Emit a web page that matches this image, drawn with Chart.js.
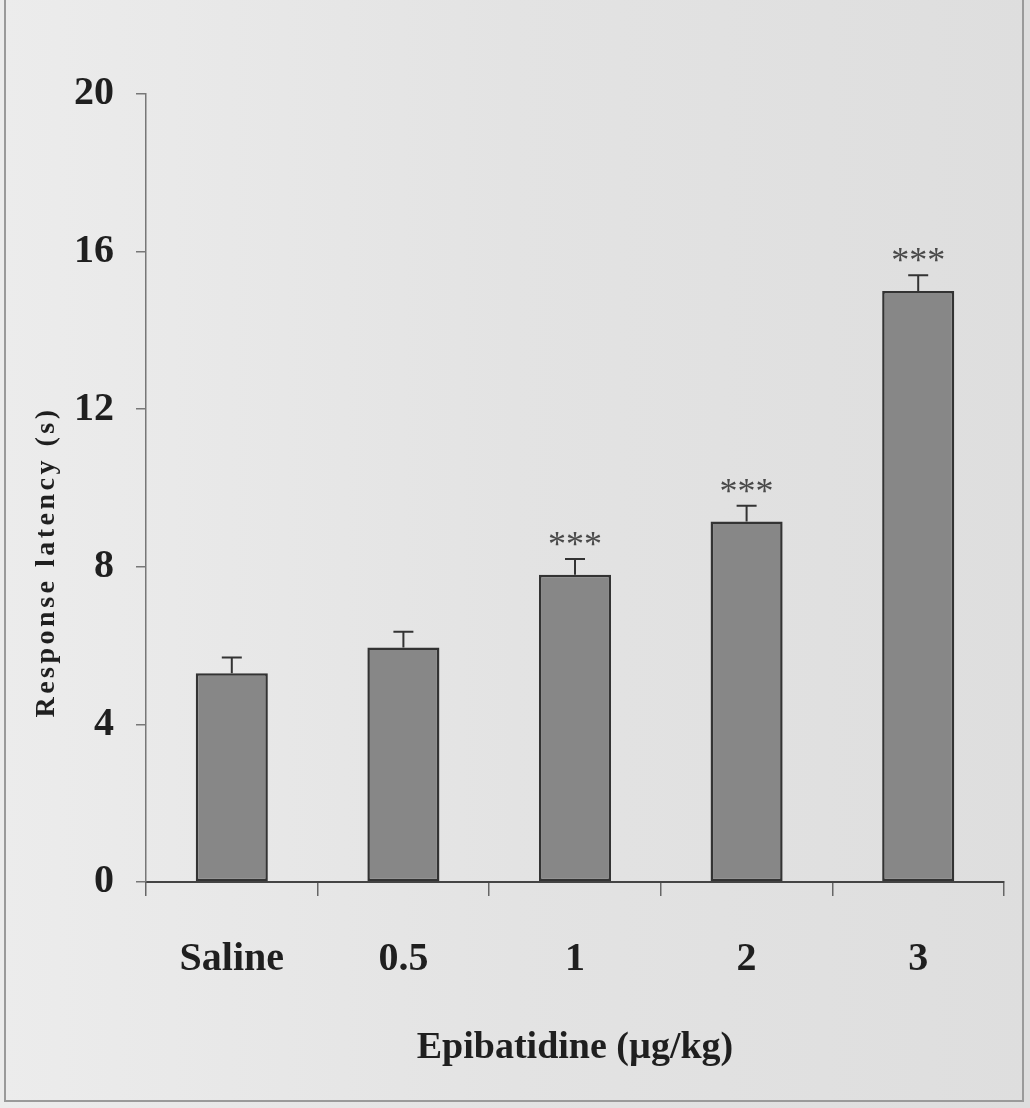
<!DOCTYPE html>
<html><head><meta charset="utf-8">
<script src="https://cdn.jsdelivr.net/npm/chart.js@4.4.1/dist/chart.umd.min.js"></script>
<style>html,body{margin:0;padding:0;background:#e4e4e4;}canvas{display:block;}</style>
</head><body>
<canvas id="c" width="1030" height="1108"></canvas>
<script>
// ---- data ----
const categories = ['Saline', '0.5', '1', '2', '3'];
const latency = [5.3, 5.95, 7.8, 9.15, 15.0];
const sem = [0.4, 0.4, 0.4, 0.4, 0.4];
const significance = ['', '', '***', '***', '***'];
const yTicks = [0, 4, 8, 12, 16, 20];
const xTitle = 'Epibatidine (µg/kg)';
const yTitle = 'Response latency (s)';

const SERIF = "'Liberation Serif', 'Times New Roman', serif";
const TEXT = '#1f1f1f';

const bgPlugin = {
  id: 'bg',
  beforeDraw(chart) {
    const {ctx, width, height} = chart;
    ctx.save();
    const g = ctx.createLinearGradient(0, 0, width, 0);
    g.addColorStop(0, '#ececec');
    g.addColorStop(0.5, '#e3e3e3');
    g.addColorStop(1, '#dedede');
    ctx.fillStyle = g;
    ctx.fillRect(0, 0, width, height);
    ctx.strokeStyle = '#9a9a9a';
    ctx.lineWidth = 2;
    ctx.beginPath();
    ctx.moveTo(5, 0); ctx.lineTo(5, height - 7);
    ctx.lineTo(width - 7, height - 7);
    ctx.lineTo(width - 7, 0);
    ctx.stroke();
    ctx.restore();
  }
};

const errPlugin = {
  id: 'err',
  afterDatasetsDraw(chart) {
    const {ctx} = chart;
    const meta = chart.getDatasetMeta(0);
    const y = chart.scales.y;
    ctx.save();
    meta.data.forEach((bar, i) => {
      const top = y.getPixelForValue(latency[i]);
      const cap = y.getPixelForValue(latency[i] + sem[i]);
      ctx.strokeStyle = '#333';
      ctx.lineWidth = 2;
      ctx.beginPath();
      ctx.moveTo(bar.x, top); ctx.lineTo(bar.x, cap);
      ctx.moveTo(bar.x - 10, cap); ctx.lineTo(bar.x + 10, cap);
      ctx.stroke();
      if (significance[i]) {
        ctx.fillStyle = '#4a4a4a';
        ctx.font = "36px " + SERIF;
        ctx.textAlign = 'center';
        ctx.textBaseline = 'alphabetic';
        ctx.fillText(significance[i], bar.x, cap - 3);
      }
    });
    ctx.restore();
  }
};

const yTitlePlugin = {
  id: 'ytitle',
  afterDraw(chart) {
    const {ctx, chartArea} = chart;
    ctx.save();
    ctx.translate(47, chartArea.bottom - 320);
    ctx.rotate(-Math.PI / 2);
    ctx.font = "bold 28px " + SERIF;
    ctx.letterSpacing = '3.5px';
    ctx.fillStyle = TEXT;
    ctx.textAlign = 'center';
    ctx.textBaseline = 'middle';
    ctx.fillText(yTitle, 0, 0);
    ctx.restore();
  }
};

new Chart(document.getElementById('c'), {
  type: 'bar',
  data: {
    labels: categories,
    datasets: [{
      data: latency,
      backgroundColor: '#878787',
      borderColor: '#333333',
      borderWidth: 2.5,
      borderSkipped: false,
      barPercentage: 0.42,
      categoryPercentage: 1.0
    }]
  },
  options: {
    responsive: false,
    animation: false,
    devicePixelRatio: 1,
    layout: {padding: {left: 0, top: 94, right: 26, bottom: 0}},
    plugins: {legend: {display: false}, tooltip: {enabled: false}},
    scales: {
      x: {
        afterFit: s => { s.height = 226; },
        grid: {drawOnChartArea: false, drawTicks: true, tickLength: 14, color: '#666', lineWidth: 1.5, offset: true},
        border: {color: '#444', width: 2},
        ticks: {color: TEXT, font: {family: SERIF, size: 40, weight: 'bold'}, padding: 40, maxRotation: 0},
        title: {display: true, text: xTitle, color: TEXT, font: {family: SERIF, size: 38, weight: 'bold'}, padding: {top: 0, bottom: 37}}
      },
      y: {
        min: 0, max: 20,
        afterFit: s => { s.width = 146; },
        afterBuildTicks: s => { s.ticks = yTicks.map(v => ({value: v})); },
        grid: {drawOnChartArea: false, drawTicks: true, tickLength: 10, color: '#777', lineWidth: 1.5},
        border: {color: '#777', width: 1.5},
        ticks: {color: TEXT, font: {family: SERIF, size: 40, weight: 'bold'}, padding: 22}
      }
    }
  },
  plugins: [bgPlugin, errPlugin, yTitlePlugin]
});
</script>
</body></html>
